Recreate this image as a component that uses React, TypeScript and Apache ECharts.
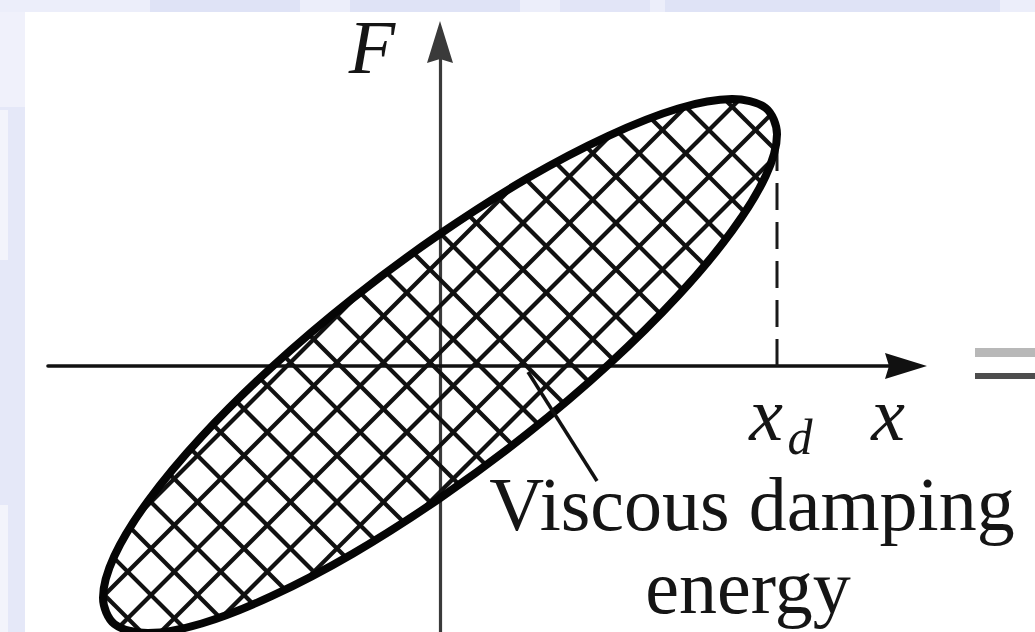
import React, { useEffect, useRef } from "react";
import * as echarts from "echarts";

// One cycle of the force–displacement loop of a viscously damped system
// (displacement x, force F), sampled every 15° of phase.
const LOOP_X = [
  100, 96.6, 86.6, 70.7, 50, 25.9, 0, -25.9, -50, -70.7, -86.6, -96.6,
  -100, -96.6, -86.6, -70.7, -50, -25.9, 0, 25.9, 50, 70.7, 86.6, 96.6,
];
const LOOP_F = [
  68.8, 76.6, 79.2, 76.4, 68.3, 55.7, 39.2, 20.1, -0.4, -20.9, -40.0, -56.3,
  -68.8, -76.6, -79.2, -76.4, -68.3, -55.7, -39.2, -20.1, 0.4, 20.9, 40.0, 56.3,
];

// Amplitude marker: x = x_d and the force reached there
const AMPLITUDE_X = [LOOP_X[0], LOOP_X[0]];
const AMPLITUDE_F = [0, LOOP_F[0]];

const FORCE_LABEL = "F";
const DISP_LABEL = "x";
const AMP_LABEL = ["x", "d"];
const ENERGY_LABEL = ["Viscous damping", "energy"];

// ---- layout ----
const W = 1035;
const H = 632;
const ORIGIN_PX = [440, 366];
const PX_PER_UNIT = 3.37;
const X_AXIS_START = 48;
const X_AXIS_END = 906;
const Y_AXIS_TOP = 42;

const X_MIN = (X_AXIS_START - ORIGIN_PX[0]) / PX_PER_UNIT;
const X_MAX = (X_AXIS_END - ORIGIN_PX[0]) / PX_PER_UNIT;
const Y_MAX = (ORIGIN_PX[1] - Y_AXIS_TOP) / PX_PER_UNIT;
const Y_MIN = -(H - ORIGIN_PX[1]) / PX_PER_UNIT;

// cross-hatch: horizontal period in px and phase of each family
const HATCH_PERIOD = 46.5;
const HATCH_PHASE_A = -6.5;
const HATCH_PHASE_B = -13.5;

const ARROW = "path://M13,0 L26,42 L13,38 L0,42 Z";
const SERIF = "'Liberation Serif', 'Times New Roman', serif";

function renderLoop(params: any, api: any) {
  if (params.dataIndex !== 0) return { type: "group", children: [] };
  const pts: number[][] = LOOP_X.map((x, i) => api.coord([x, LOOP_F[i]]));
  const o = api.coord([0, 0]);
  const children: any[] = [];

  const family = (nx: number, ny: number, phase: number) => {
    const cs = pts.map((p) => nx * (p[0] - o[0]) + ny * (p[1] - o[1]));
    const cmin = Math.min(...cs);
    const cmax = Math.max(...cs);
    let c = phase + Math.ceil((cmin - phase) / HATCH_PERIOD) * HATCH_PERIOD;
    for (; c < cmax; c += HATCH_PERIOD) {
      const hits: number[][] = [];
      for (let i = 0; i < pts.length; i++) {
        const j = (i + 1) % pts.length;
        const da = cs[i] - c;
        const db = cs[j] - c;
        if ((da <= 0 && db > 0) || (da > 0 && db <= 0)) {
          const t = da / (da - db);
          hits.push([
            pts[i][0] + t * (pts[j][0] - pts[i][0]),
            pts[i][1] + t * (pts[j][1] - pts[i][1]),
          ]);
        }
      }
      if (hits.length >= 2) {
        hits.sort((a, b) => a[0] - b[0]);
        const a = hits[0];
        const b = hits[hits.length - 1];
        children.push({
          type: "line",
          shape: { x1: a[0], y1: a[1], x2: b[0], y2: b[1] },
          style: { stroke: "#111", lineWidth: 4.2 },
        });
      }
    }
  };
  family(1, -1, HATCH_PHASE_A);
  family(1, 1, HATCH_PHASE_B);

  children.push({
    type: "polygon",
    shape: { points: pts, smooth: 0.33 },
    style: { fill: "none", stroke: "#050505", lineWidth: 8 },
  });
  return { type: "group", children };
}

function label(text: string, x: number, y: number, size: number, italic: boolean) {
  return {
    type: "text",
    z: 20,
    x,
    y,
    style: {
      text,
      fontFamily: SERIF,
      fontStyle: italic ? "italic" : "normal",
      fontSize: size,
      lineHeight: Math.round(size * 0.8),
      fill: "#151515",
      align: "center",
      verticalAlign: "middle",
    },
  };
}

export default function App() {
  const ref = useRef<HTMLDivElement>(null);

  useEffect(() => {
    document.body.style.margin = "0";
    if (!ref.current) return;
    const chart = echarts.init(ref.current, undefined, { renderer: "svg" });

    const hidden = {
      axisTick: { show: false },
      axisLabel: { show: false },
      splitLine: { show: false },
    };

    chart.setOption({
      animation: false,
      backgroundColor: "#ffffff",
      grid: {
        left: X_AXIS_START,
        right: W - X_AXIS_END,
        top: Y_AXIS_TOP,
        bottom: 0,
        outerBoundsMode: "none",
      },
      xAxis: {
        type: "value",
        min: X_MIN,
        max: X_MAX,
        axisLine: {
          onZero: true,
          symbol: ["none", ARROW],
          symbolSize: [26, 44],
          lineStyle: { color: "#111", width: 3.6 },
        },
        ...hidden,
      },
      yAxis: {
        type: "value",
        min: Y_MIN,
        max: Y_MAX,
        axisLine: {
          onZero: true,
          symbol: ["none", ARROW],
          symbolSize: [26, 42],
          lineStyle: { color: "#3a3a3a", width: 3.2 },
        },
        ...hidden,
      },
      series: [
        {
          type: "line",
          data: AMPLITUDE_X.map((x, i) => [x, AMPLITUDE_F[i]]),
          symbol: "none",
          lineStyle: { color: "#1a1a1a", width: 3, type: [27, 12] },
          z: 1,
        },
        {
          type: "custom",
          data: LOOP_X.map((x, i) => [x, LOOP_F[i]]),
          encode: { x: 0, y: 1 },
          clip: false,
          renderItem: renderLoop,
          z: 2,
        },
      ],
      graphic: [
        // pale page edges
        { type: "rect", z: -10, shape: { x: 0, y: 0, width: W, height: 12 }, style: { fill: "#eceefa" } },
        { type: "rect", z: -9, shape: { x: 150, y: 0, width: 150, height: 12 }, style: { fill: "#dfe3f6" } },
        { type: "rect", z: -9, shape: { x: 350, y: 0, width: 170, height: 12 }, style: { fill: "#dfe3f6" } },
        { type: "rect", z: -9, shape: { x: 560, y: 0, width: 90, height: 12 }, style: { fill: "#e2e5f7" } },
        { type: "rect", z: -9, shape: { x: 665, y: 0, width: 335, height: 12 }, style: { fill: "#dfe3f6" } },
        { type: "rect", z: -10, shape: { x: 0, y: 12, width: 25, height: H - 12 }, style: { fill: "#e5e8f8" } },
        { type: "rect", z: -9, shape: { x: 0, y: 12, width: 25, height: 95 }, style: { fill: "#f0f1fb" } },
        { type: "rect", z: -9, shape: { x: 0, y: 110, width: 8, height: 150 }, style: { fill: "#f3f4fb" } },
        { type: "rect", z: -9, shape: { x: 0, y: 505, width: 8, height: 127 }, style: { fill: "#f3f4fb" } },
        // "=" at the right edge
        { type: "rect", z: 10, shape: { x: 975, y: 348, width: 60, height: 9 }, style: { fill: "#b8b8b8" } },
        { type: "rect", z: 10, shape: { x: 975, y: 373, width: 60, height: 6 }, style: { fill: "#4d4d4d" } },
        // leader to the hatched area
        {
          type: "line",
          z: 20,
          shape: { x1: 528, y1: 372, x2: 597, y2: 481 },
          style: { stroke: "#111", lineWidth: 3.5 },
        },
        label(FORCE_LABEL, 372, 47, 76, true),
        label(DISP_LABEL, 888, 414, 76, true),
        label(AMP_LABEL[0], 766, 414, 76, true),
        label(AMP_LABEL[1], 800, 437, 50, true),
        label(ENERGY_LABEL[0], 752, 504, 76, false),
        label(ENERGY_LABEL[1], 748, 587, 76, false),
      ],
    });

    return () => chart.dispose();
  }, []);

  return <div ref={ref} style={{ width: W, height: H }} />;
}
